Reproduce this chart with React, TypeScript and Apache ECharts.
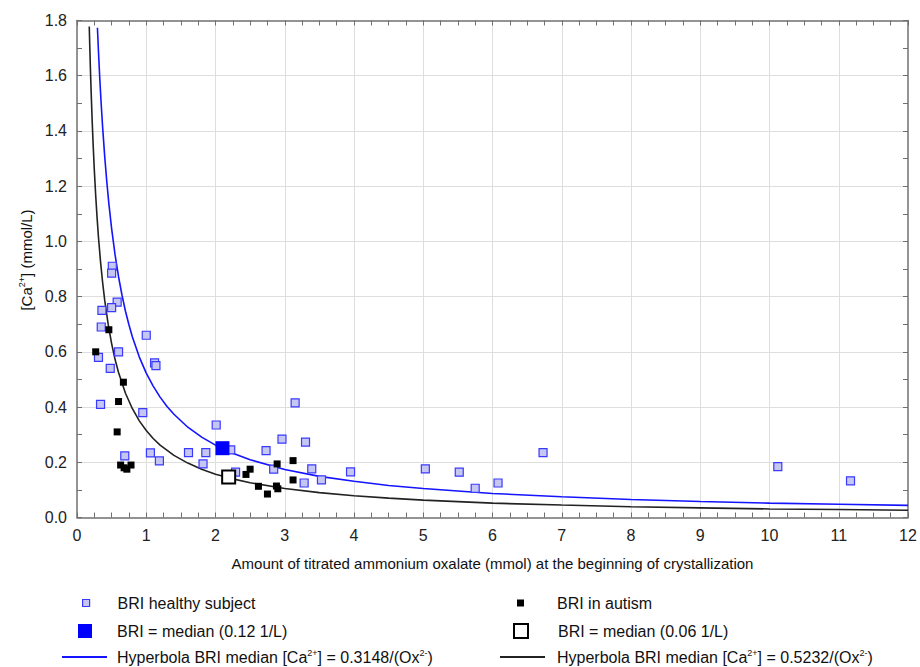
import React, { useEffect, useRef } from "react";
import * as echarts from "echarts";

// Healthy subjects (x: ammonium oxalate mmol, y: Ca2+ mmol/L)
const healthyX = [0.51, 0.5, 0.58, 0.5, 0.36, 0.35, 1.0, 0.6, 0.31, 1.12, 1.14, 0.48, 0.34, 0.95, 2.01, 0.69, 1.06, 1.19, 1.61, 1.86, 1.82, 2.22, 2.29, 3.15, 2.96, 3.3, 2.73, 2.84, 3.39, 3.53, 3.28, 3.95, 5.03, 5.52, 5.75, 6.08, 6.73, 10.12, 11.17];
const healthyY = [0.91, 0.885, 0.78, 0.76, 0.75, 0.69, 0.66, 0.6, 0.58, 0.56, 0.55, 0.54, 0.41, 0.38, 0.335, 0.223, 0.234, 0.205, 0.235, 0.235, 0.194, 0.245, 0.164, 0.415, 0.284, 0.273, 0.242, 0.175, 0.176, 0.136, 0.125, 0.165, 0.176, 0.164, 0.106, 0.125, 0.235, 0.184, 0.133];

// Subjects with autism
const autismX = [0.27, 0.46, 0.67, 0.6, 0.58, 0.63, 0.68, 0.72, 0.78, 2.89, 3.12, 2.5, 2.44, 2.62, 2.75, 2.88, 2.9, 3.12];
const autismY = [0.6, 0.68, 0.49, 0.42, 0.31, 0.19, 0.18, 0.175, 0.19, 0.194, 0.206, 0.175, 0.156, 0.113, 0.085, 0.114, 0.104, 0.136];

// Medians
const medianHealthy = [2.1, 0.251];
const medianAutism = [2.19, 0.147];

// Fitted hyperbolas
const blueCurveX = [0.295, 0.31, 0.33, 0.35, 0.37, 0.4, 0.43, 0.46, 0.5, 0.55, 0.6, 0.65, 0.7, 0.75, 0.8, 0.9, 1.0, 1.1, 1.2, 1.3, 1.4, 1.6, 1.8, 2.0, 2.25, 2.5, 3.0, 3.5, 4, 4.5, 5, 6, 7, 8, 9, 10, 11, 12];
const blueCurveY = [1.774, 1.688, 1.585, 1.495, 1.414, 1.308, 1.217, 1.137, 1.046, 0.951, 0.872, 0.805, 0.747, 0.698, 0.654, 0.581, 0.523, 0.476, 0.436, 0.402, 0.374, 0.327, 0.291, 0.262, 0.233, 0.209, 0.174, 0.149, 0.131, 0.116, 0.105, 0.087, 0.075, 0.065, 0.058, 0.052, 0.048, 0.044];
const blackCurveX = [0.177, 0.185, 0.195, 0.205, 0.22, 0.235, 0.25, 0.27, 0.29, 0.31, 0.34, 0.37, 0.4, 0.45, 0.5, 0.55, 0.6, 0.7, 0.8, 0.9, 1.0, 1.1, 1.2, 1.4, 1.6, 1.8, 2.0, 2.25, 2.5, 3, 3.5, 4, 4.5, 5, 6, 7, 8, 9, 10, 11, 12];
const blackCurveY = [1.778, 1.702, 1.614, 1.536, 1.431, 1.34, 1.259, 1.166, 1.086, 1.015, 0.926, 0.851, 0.787, 0.7, 0.63, 0.572, 0.525, 0.45, 0.394, 0.35, 0.315, 0.286, 0.262, 0.225, 0.197, 0.175, 0.157, 0.14, 0.126, 0.105, 0.09, 0.079, 0.07, 0.063, 0.052, 0.045, 0.039, 0.035, 0.031, 0.029, 0.026];

const NAME_HEALTHY = "BRI healthy subject";
const NAME_AUTISM = "BRI in autism";
const NAME_MED_H = "BRI = median (0.12 1/L)";
const NAME_MED_A = "BRI = median (0.06 1/L)";
const NAME_HYP_BLUE = "Hyperbola BRI median [Ca2+] = 0.3148/(Ox2-)";
const NAME_HYP_BLACK = "Hyperbola BRI median [Ca2+] = 0.5232/(Ox2-)";

const FONT = "'Liberation Sans', Arial, sans-serif";

const zip = (xs: number[], ys: number[]) => xs.map((x, i) => [x, ys[i]]);

export default function App() {
  const ref = useRef<HTMLDivElement>(null);
  useEffect(() => {
    if (!ref.current) return;
    const chart = echarts.init(ref.current, undefined, { renderer: "svg" });
    const axisColor = "#707070";
    const legendText = {
      fontFamily: FONT,
      fontSize: 16,
      color: "#111",
      rich: {
        sup: { fontSize: 9, fontFamily: FONT, color: "#111", padding: [0, 0, 9, 0] },
      },
    };
    const legendFormatter = (name: string) =>
      name.replace("Ca2+", "Ca{sup|2+}").replace("Ox2-", "Ox{sup|2-}");
    const mkLegend = (
      name: string,
      left: number,
      top: number,
      w: number,
      h: number,
      pad: number,
      icon: string,
      itemStyle: any
    ) => ({
      show: true,
      left,
      top,
      padding: 0,
      selectedMode: false,
      itemWidth: w,
      itemHeight: h,
      formatter: legendFormatter,
      textStyle: { ...legendText, padding: [0, 0, 0, pad] },
      data: [{ name, icon, itemStyle }],
    });
    const tickCommon = (split: number) => ({
      axisLine: { show: true, onZero: false, lineStyle: { color: axisColor, width: 1.5 } },
      axisTick: { show: true, inside: true, length: 5, lineStyle: { color: axisColor, width: 1 } },
      minorTick: { show: true, splitNumber: split, length: 5, lineStyle: { color: axisColor, width: 1 } },
    });
    const split = {
      show: true,
      showMinLine: false,
      showMaxLine: false,
      lineStyle: { color: "#dedede", width: 1 },
    };

    chart.setOption({
      animation: false,
      backgroundColor: "#ffffff",
      grid: {
        left: 77,
        top: 20.5,
        right: 12,
        bottom: 149.5,
        containLabel: false,
      },
      xAxis: [
        {
          type: "value",
          min: 0,
          max: 12,
          interval: 1,
          name: "Amount of titrated ammonium oxalate (mmol) at the beginning of crystallization",
          nameLocation: "middle",
          nameGap: 38,
          nameTextStyle: { fontFamily: FONT, fontSize: 15, color: "#111" },
          ...tickCommon(4),
          axisLabel: { fontFamily: FONT, fontSize: 16, color: "#222", margin: 10 },
          splitLine: split,
        },
        {
          type: "value",
          position: "top",
          min: 0,
          max: 12,
          interval: 1,
          ...tickCommon(4),
          axisLabel: { show: false },
          splitLine: { show: false },
        },
      ],
      yAxis: [
        {
          type: "value",
          min: 0,
          max: 1.8,
          interval: 0.2,
          name: "[Ca{sup|2+}] (mmol/L)",
          nameLocation: "middle",
          nameGap: 33,
          nameRotate: 90,
          nameTextStyle: {
            fontFamily: FONT,
            fontSize: 15,
            color: "#111",
            padding: [0, 0, 0, 18],
            rich: { sup: { fontFamily: FONT, fontSize: 9, color: "#111", padding: [0, 0, 9, 0] } },
          },
          ...tickCommon(2),
          axisLabel: {
            fontFamily: FONT,
            fontSize: 16,
            color: "#222",
            margin: 10,
            formatter: (v: number) => v.toFixed(1),
          },
          splitLine: split,
        },
        {
          type: "value",
          position: "right",
          min: 0,
          max: 1.8,
          interval: 0.2,
          ...tickCommon(2),
          axisLabel: { show: false },
          splitLine: { show: false },
        },
      ],
      legend: [
        mkLegend(NAME_HEALTHY, 82, 595, 7, 7, 23, "rect", { color: "#c6c6f2", borderColor: "#3a3aff", borderWidth: 1.2 }),
        mkLegend(NAME_AUTISM, 517, 595, 7, 7, 28, "rect", { color: "#000" }),
        mkLegend(NAME_MED_H, 78, 623, 14, 14, 20, "rect", { color: "#0000ff" }),
        mkLegend(NAME_MED_A, 513, 623, 14, 14, 25, "rect", { color: "#fff", borderColor: "#000", borderWidth: 2 }),
        mkLegend(NAME_HYP_BLUE, 62, 648, 45, 2, 5, "rect", { color: "#1414ff" }),
        mkLegend(NAME_HYP_BLACK, 500, 648, 45, 2, 7, "rect", { color: "#222" }),
      ],
      series: [
        {
          name: NAME_HYP_BLUE,
          type: "line",
          data: zip(blueCurveX, blueCurveY),
          smooth: false,
          symbol: "none",
          lineStyle: { color: "#1414ff", width: 1.6 },
          itemStyle: { color: "#1414ff" },
          z: 2,
        },
        {
          name: NAME_HYP_BLACK,
          type: "line",
          data: zip(blackCurveX, blackCurveY),
          smooth: false,
          symbol: "none",
          lineStyle: { color: "#222", width: 1.6 },
          itemStyle: { color: "#222" },
          z: 2,
        },
        {
          name: NAME_HEALTHY,
          type: "scatter",
          data: zip(healthyX, healthyY),
          symbol: "rect",
          symbolSize: 8,
          itemStyle: { color: "#c6c6f2", borderColor: "#3a3aff", borderWidth: 1.2, opacity: 1 },
          z: 3,
        },
        {
          name: NAME_AUTISM,
          type: "scatter",
          data: zip(autismX, autismY),
          symbol: "rect",
          symbolSize: 7,
          itemStyle: { color: "#000", opacity: 1 },
          z: 4,
        },
        {
          name: NAME_MED_H,
          type: "scatter",
          xAxisIndex: 1,
          yAxisIndex: 1,
          data: [medianHealthy],
          symbol: "rect",
          symbolSize: 14,
          itemStyle: { color: "#0000ff", opacity: 1 },
          z: 5,
        },
        {
          name: NAME_MED_A,
          type: "scatter",
          xAxisIndex: 1,
          yAxisIndex: 1,
          data: [medianAutism],
          symbol: "rect",
          symbolSize: 13,
          itemStyle: { color: "#fff", borderColor: "#000", borderWidth: 2, opacity: 1 },
          z: 5,
        },
      ],
    });
    return () => chart.dispose();
  }, []);
  return <div ref={ref} style={{ width: 920, height: 667, position: "absolute", left: 0, top: 0 }} />;
}
